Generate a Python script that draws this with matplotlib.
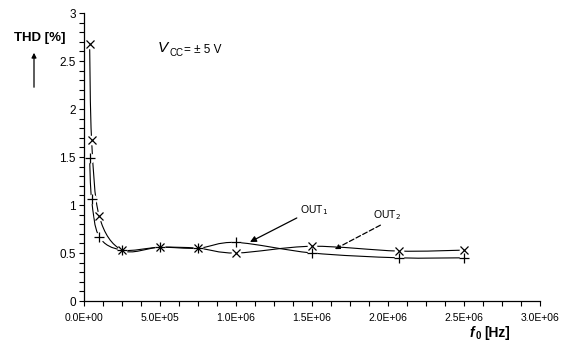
import numpy as np
import matplotlib
matplotlib.use("Agg")
import matplotlib.pyplot as plt
from matplotlib.path import Path
from matplotlib.patches import PathPatch, FancyArrowPatch
from matplotlib.ticker import MultipleLocator, FuncFormatter

plt.rcParams['font.family'] = ['Liberation Sans', 'DejaVu Sans']

# measured THD vs. frequency, Vcc = +/-5 V
freq = [3.7e4, 5.0e4, 1.0e5, 2.5e5, 5.0e5, 7.5e5, 1.0e6, 1.5e6, 2.07e6, 2.5e6]
thd_out1 = [1.49, 1.06, 0.67, 0.53, 0.56, 0.55, 0.61, 0.50, 0.45, 0.45]
thd_out2 = [2.68, 1.68, 0.885, 0.53, 0.56, 0.55, 0.50, 0.57, 0.52, 0.53]

W, H = 567, 351
fig = plt.figure(figsize=(W / 100, H / 100), dpi=100)
ax = fig.add_axes([84 / W, 1 - 301 / H, (540 - 84) / W, (301 - 13) / H])


def px(x, y):
    return x / W, 1 - y / H


def smooth_path(xs, ys, tension=1 / 6):
    # Catmull-Rom style bezier through the points (Excel "smoothed line")
    P = np.column_stack([xs, ys])
    verts = [P[0]]
    codes = [Path.MOVETO]
    n = len(P)
    for i in range(n - 1):
        p0 = P[i - 1] if i > 0 else P[i]
        p1, p2 = P[i], P[i + 1]
        p3 = P[i + 2] if i + 2 < n else P[i + 1]
        c1 = p1 + (p2 - p0) * tension
        c2 = p2 - (p3 - p1) * tension
        verts += [c1, c2, p2]
        codes += [Path.CURVE4] * 3
    return Path(verts, codes)


def draw_curve(xs, ys):
    # build the curve with x in roughly the same units as y, then scale back
    k = 1.58e-6
    path = smooth_path(np.array(xs) * k, np.array(ys))
    v = path.vertices.copy()
    v[:, 0] = v[:, 0] / k
    ax.add_patch(PathPatch(Path(v, path.codes), fill=False, lw=0.8,
                           ec='black', zorder=2))


draw_curve(freq, thd_out1)
draw_curve(freq, thd_out2)

# white backing so the lines break around the markers
for ys in (thd_out1, thd_out2):
    ax.plot(freq, ys, ls='none', marker='o', ms=7, mfc='white',
            mec='none', zorder=3)
ax.plot(freq, thd_out1, ls='none', marker='+', ms=7, mec='black',
        mew=0.9, zorder=4)
ax.plot(freq, thd_out2, ls='none', marker='x', ms=6, mec='black',
        mew=0.9, zorder=4)

ax.set_xlim(0, 3.0e6)
ax.set_ylim(0, 3)
for s in ('top', 'right'):
    ax.spines[s].set_visible(False)
for s in ('left', 'bottom'):
    ax.spines[s].set_linewidth(0.9)

ax.xaxis.set_major_locator(MultipleLocator(5e5))
ax.xaxis.set_minor_locator(MultipleLocator(1.25e5))
ax.yaxis.set_major_locator(MultipleLocator(0.5))
ax.yaxis.set_minor_locator(MultipleLocator(0.1))
ax.xaxis.set_major_formatter(FuncFormatter(lambda v, p: '%.1E' % v))
ax.yaxis.set_major_formatter(FuncFormatter(lambda v, p: '%g' % v))
ax.tick_params(which='both', direction='out', length=3.5, width=0.8)
ax.tick_params(axis='x', labelsize=7.5, pad=5)
ax.tick_params(axis='y', labelsize=8.5, pad=2.5)

# curve labels
ax.annotate('', xy=(1.092e6, 0.615), xytext=(1.40e6, 0.865),
            arrowprops=dict(arrowstyle='-|>', lw=0.9, color='black',
                            mutation_scale=9, shrinkA=0, shrinkB=0))
ax.text(1.42e6, 0.95, 'OUT$_1$', fontsize=7.5, va='center', ha='left')
ax.annotate('', xy=(1.65e6, 0.54), xytext=(1.95e6, 0.79),
            arrowprops=dict(arrowstyle='-|>', lw=0.9, color='black',
                            ls=(0, (4, 2)), mutation_scale=7,
                            shrinkA=0, shrinkB=0))
ax.text(1.90e6, 0.90, 'OUT$_2$', fontsize=7.5, va='center', ha='left')

# supply voltage note
fig.text(*px(158, 48), 'V', fontsize=11, style='italic', va='center')
fig.text(*px(170, 53), 'CC', fontsize=7, va='center')
fig.text(*px(184, 50), '= ± 5 V', fontsize=8.5, va='center')

# axis titles
fig.text(*px(14, 38), 'THD [%]', fontsize=9.5, fontweight='bold',
         va='center', ha='left')
fig.add_artist(FancyArrowPatch(
    px(34, 90), px(34, 50), transform=fig.transFigure, arrowstyle='-|>',
    mutation_scale=7, lw=0.9, color='black'))
fig.text(*px(470, 333), 'f', fontsize=10, fontweight='bold',
         style='italic', va='center')
fig.text(*px(476, 336), '0', fontsize=7, fontweight='bold', va='center')
fig.text(*px(484, 333), '[Hz]', fontsize=10, fontweight='bold', va='center')

fig.savefig('out.png', dpi=100)
